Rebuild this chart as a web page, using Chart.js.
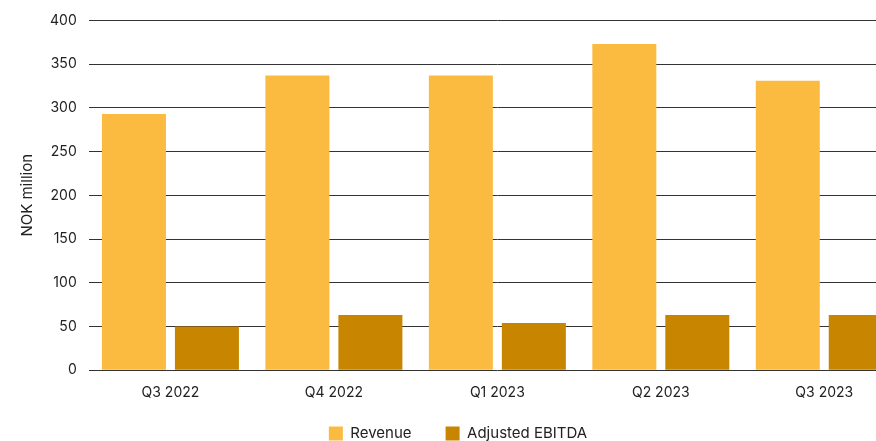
<!DOCTYPE html>
<html>
<head>
<meta charset="utf-8">
<script src="https://cdn.jsdelivr.net/npm/chart.js@4/dist/chart.umd.min.js"></script>
<style>
  html, body { margin: 0; padding: 0; background: #fff; overflow: hidden; }
  #wrap { width: 910px; height: 474px; }
</style>
</head>
<body>
<div id="wrap"><canvas id="Barchart"></canvas></div>
<script>
const quarters = ['Q3 2022', 'Q4 2022', 'Q1 2023', 'Q2 2023', 'Q3 2023'];
const revenue = [293, 337, 337, 373, 331];
const adjustedEbitda = [50, 63, 54, 63, 63];

const Bardata = {
  labels: quarters,
  datasets: [{
    label: 'Revenue',
    data: revenue,
    backgroundColor: '#FBBB40',
    barPercentage: 0.877,
    categoryPercentage: 0.893
  }, {
    label: 'Adjusted EBITDA',
    data: adjustedEbitda,
    backgroundColor: '#C88500',
    barPercentage: 0.877,
    categoryPercentage: 0.893
  }]
};

const family = 'Inter, "Noto Sans", sans-serif';

// legend padding is also the gap between items (wide here), so lift the legend up after layout
const liftLegend = {
  id: 'liftLegend',
  afterLayout(chart) {
    chart.legend.top -= 23;
    chart.legend.bottom -= 23;
  }
};

var Barconfig = {
  type: 'bar',
  data: Bardata,
  plugins: [liftLegend],
  options: {
    responsive: true,
    maintainAspectRatio: false,
    animation: false,
    layout: { padding: { top: 10, right: 4, left: 10, bottom: 0 } },
    plugins: {
      legend: {
        position: 'bottom',
        labels: {
          color: '#222',
          font: { family: family, size: 15 },
          boxWidth: 14,
          boxHeight: 14,
          padding: 34
        }
      },
      tooltip: { enabled: false }
    },
    scales: {
      x: {
        grid: { display: false, drawTicks: false },
        border: { display: false },
        ticks: { color: '#222', font: { family: family, size: 14 }, padding: 14 }
      },
      y: {
        min: 0,
        max: 400,
        ticks: { stepSize: 50, color: '#222', font: { family: family, size: 14 }, padding: 12 },
        grid: { color: '#333', lineWidth: 1, drawTicks: false },
        border: { display: false },
        title: {
          display: true,
          text: 'NOK million',
          color: '#222',
          font: { family: family, size: 15 },
          padding: { top: 8, bottom: 2 }
        }
      }
    }
  }
};

var Barchart = new Chart(document.getElementById('Barchart'), Barconfig);
</script>
</body>
</html>
